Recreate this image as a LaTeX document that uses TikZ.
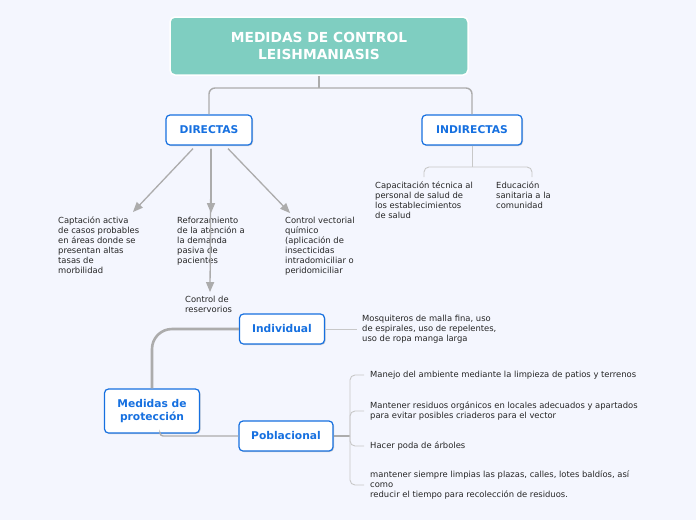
\documentclass[tikz,border=0pt]{standalone}
\usepackage{fontspec}
\setmainfont{DejaVu Sans}
\usepackage{tikz}
\usetikzlibrary{calc}
\usetikzlibrary{arrows}
\usetikzlibrary{shadows}
\usetikzlibrary{positioning}
\definecolor{fondo}{RGB}{244,246,254}
\definecolor{verdet}{RGB}{127,206,193}
\definecolor{azul}{RGB}{22,112,224}
\definecolor{gris}{RGB}{172,172,172}
\definecolor{grisc}{RGB}{200,200,200}
\tikzset{caja/.style={draw=azul,fill=white,line width=1.2pt,rounded corners=4pt,text=azul,font=\fontsize{10.7}{13}\selectfont\bfseries,align=center,minimum height=30pt,drop shadow={opacity=0.35,shadow xshift=1pt,shadow yshift=-1pt}}}
\tikzset{texto/.style={inner sep=0pt,align=left,font=\fontsize{8.4}{10}\selectfont,text=black!85}}

\begin{document}
\begin{tikzpicture}[x=1pt,y=-1pt]
\tikzstyle{flecha} = [gris,line width=1.3pt,-triangle 45]
\tikzstyle{tronco} = [gris,line width=1.4pt]
\tikzstyle{fino} = [grisc,line width=0.9pt]
\fill[fondo] (0,0) rectangle (696,520);
\useasboundingbox (0,0) rectangle (696,520);

\node[fill=verdet,draw=white,line width=1.5pt,rounded corners=5pt,minimum width=298pt,minimum height=58pt,align=center,text=white,font=\fontsize{13.8}{17}\selectfont\bfseries](T) at (319,46){MEDIDAS DE CONTROL\\LEISHMANIASIS};

\node[caja,minimum width=86pt](D) at (209,130){DIRECTAS};
\node[caja,minimum width=100pt](I) at (472,130){INDIRECTAS};

\coordinate (tb) at (319,88);
\draw[tronco] (T.south) -- (tb);
\draw[tronco,rounded corners=6pt] (D.north) |- (tb) -| (I.north);

\node[texto,anchor=north west](cap) at (58,217){Captación activa\\de casos probables\\en áreas donde se\\presentan altas\\tasas de\\morbilidad};
\node[texto,anchor=north west](ref) at (177,217){Reforzamiento\\de la atención a\\la demanda\\pasiva de\\pacientes};
\node[texto,anchor=north west](vec) at (285,217){Control vectorial\\químico\\(aplicación de\\insecticidas\\intradomiciliar o\\peridomiciliar};
\node[texto,anchor=north west](res) at (185,296){Control de\\reservorios};

\coordinate (d1) at (133,212);
\coordinate (d2) at (211,213);
\coordinate (d3) at (290,213);
\coordinate (d4) at (210,292);
\draw[flecha] ($(D.south)+(-16,3)$) -- (d1);
\draw[flecha] ($(D.south)+(2,3)$) -- (d2);
\draw[flecha] ($(D.south)+(2,3)$) -- (d4);
\draw[flecha] ($(D.south)+(19,3)$) -- (d3);

\node[texto,anchor=north west](capt) at (375,182){Capacitación técnica al\\personal de salud de\\los establecimientos\\de salud};
\node[texto,anchor=north west](edu) at (496,182){Educación\\sanitaria a la\\comunidad};
\coordinate (ib) at (472,167);
\draw[fino] (I.south) -- (ib);
\draw[fino,rounded corners=5pt] (424,177) |- (ib) -| (532,177);

\node[caja,minimum width=95pt,minimum height=44pt](M) at (152,411){Medidas de\\protección};
\node[caja,minimum width=85pt](Ind) at (282,329){Individual};
\node[caja,minimum width=94pt](Pob) at (286,436){Poblacional};
\draw[gris,line width=2.6pt,rounded corners=20pt] (M.north) |- (Ind.west);
\draw[gris,line width=1.4pt,rounded corners=3pt] ($(M.south)+(8,0)$) |- (Pob.west);

\node[texto,anchor=west](mos) at (362,329){Mosquiteros de malla fina, uso\\de espirales, uso de repelentes,\\uso de ropa manga larga};
\draw[fino] (Ind.east) -- ($(mos.west)+(-5,0)$);

\node[texto,anchor=west](p1) at (370,375){Manejo del ambiente mediante la limpieza de patios y terrenos};
\node[texto,anchor=west](p2) at (370,411){Mantener residuos orgánicos en locales adecuados y apartados\\para evitar posibles criaderos para el vector};
\node[texto,anchor=west](p3) at (370,446){Hacer poda de árboles};
\node[texto,anchor=west](p4) at (370,485){mantener siempre limpias las plazas, calles, lotes baldíos, así\\como\\reducir el tiempo para recolección de residuos.};
\coordinate (pb) at (350,436);
\draw[gris,line width=1.4pt] (Pob.east) -- (pb);
\foreach \p in {p1,p2,p3,p4}
  \draw[fino,rounded corners=5pt] (pb) |- ($(\p.west)+(-6,0)$);

\end{tikzpicture}
\end{document}
